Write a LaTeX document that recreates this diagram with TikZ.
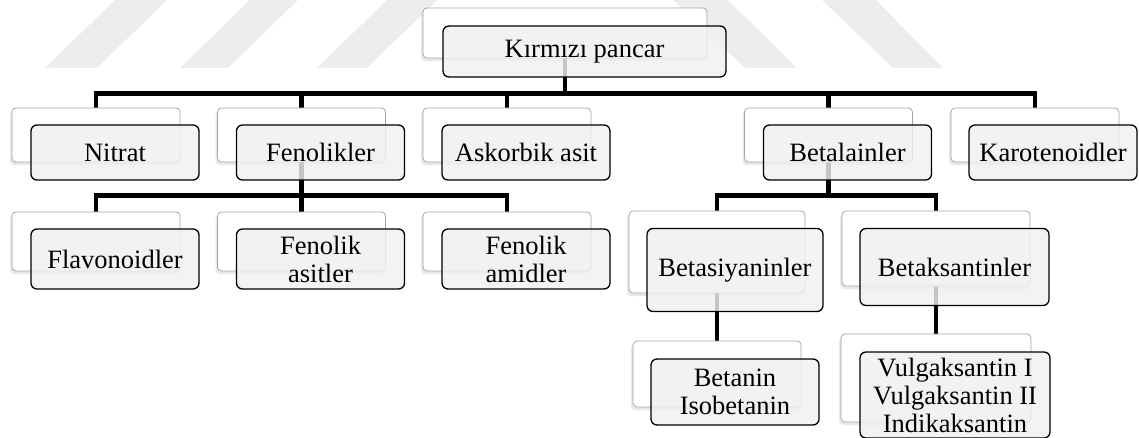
\documentclass[tikz,border=0pt]{standalone}
\usepackage{fontspec}
\setmainfont{Liberation Serif}
\usetikzlibrary{shadows}
\pgfdeclarelayer{bg}
\pgfsetlayers{bg,main}

\begin{document}
\begin{tikzpicture}[x=1pt,y=-1pt,
 every node/.style={align=center,inner sep=0pt},
 back/.style={draw=black!35,fill=white,rounded corners=4pt,line width=0.8pt,
  drop shadow={shadow xshift=-2pt,shadow yshift=-3pt,opacity=0.18}},
 card/.style={draw=black,line width=1.3pt,rounded corners=6pt,fill=black!6,
  fill opacity=0.82,text opacity=1,font=\fontsize{26.5}{28}\selectfont},
 link/.style={line width=4.5pt,line join=miter},
 wmark/.style={fill=black!7}]
\useasboundingbox (0,0) rectangle (1139,438);
% top
\node[back,minimum width=284pt,minimum height=50pt] (pancar-s) at (565,33) {};
\node[card,minimum width=283pt,minimum height=51pt] (pancar) at (584.5,51.5) {Kırmızı pancar};
% first level
\node[back,minimum width=168pt,minimum height=54pt] (nitrat-s) at (96,135) {};
\node[card,minimum width=168pt,minimum height=55pt] (nitrat) at (115,152.5) {Nitrat};
\node[back,minimum width=168pt,minimum height=54pt] (fenol-s) at (301.5,135) {};
\node[card,minimum width=168pt,minimum height=55pt] (fenol) at (320.5,152.5) {Fenolikler};
\node[back,minimum width=168pt,minimum height=54pt] (askorbik-s) at (507,135) {};
\node[card,minimum width=168pt,minimum height=55pt] (askorbik) at (526,152.5) {Askorbik asit};
\node[back,minimum width=168pt,minimum height=54pt] (betal-s) at (828.5,135) {};
\node[card,minimum width=168pt,minimum height=55pt] (betal) at (847.5,152.5) {Betalainler};
\node[back,minimum width=168pt,minimum height=54pt] (karoten-s) at (1035,135) {};
\node[card,minimum width=168pt,minimum height=55pt] (karoten) at (1053,152.5) {Karotenoidler};
% under Fenolikler
\node[back,minimum width=168pt,minimum height=59pt] (flavo-s) at (96,241.5) {};
\node[card,minimum width=168pt,minimum height=60pt] (flavo) at (115,259) {Flavonoidler};
\node[back,minimum width=168pt,minimum height=59pt] (asit-s) at (301.5,241.5) {};
\node[card,minimum width=168pt,minimum height=60pt] (asit) at (320.5,259) {Fenolik\\asitler};
\node[back,minimum width=168pt,minimum height=59pt] (amid-s) at (507,241.5) {};
\node[card,minimum width=168pt,minimum height=60pt] (amid) at (526,259) {Fenolik\\amidler};
% under Betalainler
\node[back,minimum width=176pt,minimum height=82pt] (betasi-s) at (717,252) {};
\node[card,minimum width=176pt,minimum height=83pt] (betasi) at (735,270) {Betasiyaninler};
\node[back,minimum width=188pt,minimum height=75pt] (betaks-s) at (936,248.5) {};
\node[card,minimum width=189pt,minimum height=77pt] (betaks) at (954.5,267) {Betaksantinler};
\node[back,minimum width=168pt,minimum height=66pt] (betanin-s) at (717,374) {};
\node[card,minimum width=168pt,minimum height=66pt] (betanin) at (735,392) {Betanin\\Isobetanin};
\node[back,minimum width=190pt,minimum height=88pt] (vulga-s) at (936,378) {};
\node[card,minimum width=190pt,minimum height=86pt] (vulga) at (955,395) {Vulgaksantin I\\Vulgaksantin II\\Indikaksantin};
\begin{pgfonlayer}{bg}
% watermark
\fill[wmark] (45,68)--(97,68)--(167,0)--(115,0)--cycle;
\fill[wmark] (180,68)--(228,68)--(298,0)--(250,0)--cycle;
\fill[wmark] (317,68)--(367,68)--(437,0)--(387,0)--cycle;
\fill[wmark] (673,0)--(728,0)--(797,68)--(745,68)--cycle;
\fill[wmark] (822,0)--(876,0)--(943,68)--(893,68)--cycle;
% connectors
\draw[link] (pancar-s.south) -- ++(0,35) -| (nitrat-s.north);
\draw[link] (pancar-s.south) -- ++(0,35) -| (fenol-s.north);
\draw[link] (pancar-s.south) -- ++(0,35) -| (askorbik-s.north);
\draw[link] (pancar-s.south) -- ++(0,35) -| (betal-s.north);
\draw[link] (pancar-s.south) -- ++(0,35) -| (karoten-s.north);
\draw[link] (fenol-s.south) -- ++(0,33) -| (flavo-s.north);
\draw[link] (fenol-s.south) -- ++(0,33) -| (asit-s.north);
\draw[link] (fenol-s.south) -- ++(0,33) -| (amid-s.north);
\draw[link] (betal-s.south) -- ++(0,33) -| (betasi-s.north);
\draw[link] (betal-s.south) -- ++(0,33) -| (betaks-s.north);
\draw[link] (betasi-s.south) -- (betanin-s.north);
\draw[link] (betaks-s.south) -- (vulga-s.north);
\end{pgfonlayer}
\end{tikzpicture}
\end{document}
